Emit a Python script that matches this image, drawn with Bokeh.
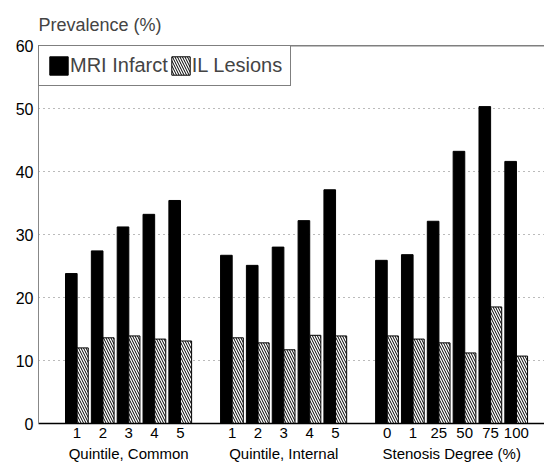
from bokeh.plotting import figure
from bokeh.models import Range1d, FixedTicker, LinearAxis, Span, Legend, LegendItem, ColumnDataSource
from bokeh.embed import file_html
from bokeh.resources import INLINE

# ---- data ----
groups = ["Quintile, Common", "Quintile, Internal", "Stenosis Degree (%)"]
group_cats = [["1", "2", "3", "4", "5"],
              ["1", "2", "3", "4", "5"],
              ["0", "1", "25", "50", "75", "100"]]
mri_infarct = [[23.8, 27.4, 31.2, 33.2, 35.4],
               [26.7, 25.1, 28.0, 32.2, 37.1],
               [25.9, 26.8, 32.1, 43.2, 50.3, 41.6]]
il_lesions = [[12.0, 13.6, 13.9, 13.4, 13.1],
              [13.6, 12.8, 11.7, 14.0, 13.9],
              [13.9, 13.4, 12.8, 11.2, 18.5, 10.7]]
y_ticks = [0, 10, 20, 30, 40, 50, 60]

FONT = "Liberation Sans"

# slot positions: one empty slot between groups
xs, labels, mri, il, group_centers = [], [], [], [], []
pos = 0
for cats, m, l in zip(group_cats, mri_infarct, il_lesions):
    start = pos
    for c, mv, lv in zip(cats, m, l):
        xs.append(pos); labels.append(c); mri.append(mv); il.append(lv)
        pos += 1
    group_centers.append((start + pos - 1) / 2)
    pos += 1

off = 0.22
src = ColumnDataSource(dict(
    xm=[x - off for x in xs], xh=[x + off for x in xs], mri=mri, il=il))

p = figure(width=544, height=468, output_backend="svg", toolbar_location=None,
           x_range=Range1d(-1.49, 18.09), y_range=Range1d(0, 60),
           min_border_left=38, min_border_right=0, min_border_top=45, min_border_bottom=45,
           background_fill_color="white", border_fill_color="white")
p.outline_line_color = None

r1 = p.vbar(x="xm", top="mri", width=0.45, source=src,
            fill_color="black", line_color="black", line_width=1)
r2 = p.vbar(x="xh", top="il", width=0.43, source=src,
            fill_color="white", line_color="black", line_width=1,
            hatch_pattern="left_diagonal_line", hatch_color="black",
            hatch_scale=5, hatch_weight=1)

# title
p.title.text = "Prevalence (%)"
p.title.text_font = FONT
p.title.text_font_size = "18px"
p.title.text_font_style = "normal"
p.title.align = "left"
p.title.standoff = 22

# y axis
ya = p.yaxis[0]
ya.ticker = FixedTicker(ticks=y_ticks)
ya.major_tick_out = 0
ya.major_tick_in = 0
ya.minor_tick_line_color = None
ya.axis_line_color = "#888888"
ya.major_label_text_font = FONT
ya.major_label_text_font_size = "16px"
ya.major_label_text_color = "black"
ya.major_label_standoff = 5

# x axis (category numbers)
xa = p.xaxis[0]
xa.ticker = FixedTicker(ticks=xs)
xa.major_label_overrides = {x: lab for x, lab in zip(xs, labels)}
xa.major_tick_out = 0
xa.major_tick_in = 0
xa.minor_tick_line_color = None
xa.axis_line_color = "black"
xa.axis_line_width = 1.5
xa.major_label_text_font = FONT
xa.major_label_text_font_size = "15px"
xa.major_label_text_color = "black"
xa.major_label_standoff = 4

# group labels axis
ga = LinearAxis(ticker=FixedTicker(ticks=group_centers),
                major_label_overrides={c: g for c, g in zip(group_centers, groups)})
ga.axis_line_color = None
ga.major_tick_line_color = None
ga.minor_tick_line_color = None
ga.major_label_text_font = FONT
ga.major_label_text_font_size = "15px"
ga.major_label_text_color = "black"
ga.major_label_standoff = -2
p.add_layout(ga, "below")

# grid
p.xgrid.visible = False
p.ygrid.ticker = FixedTicker(ticks=[10, 20, 30, 40, 50])
p.ygrid.grid_line_color = "#777777"
p.ygrid.grid_line_dash = "1 4"
p.ygrid.grid_line_width = 1

# top frame line
p.add_layout(Span(location=60, dimension="width", line_color="black", line_width=1.5))

legend = Legend(items=[LegendItem(label="MRI Infarct", renderers=[r1]),
                       LegendItem(label="IL Lesions", renderers=[r2])],
                location="top_left", orientation="horizontal", margin=0,
                padding=8, spacing=1, label_standoff=0,
                glyph_width=23, glyph_height=23,
                label_text_font=FONT, label_text_font_size="20px",
                border_line_color="black", border_line_width=1,
                background_fill_color="white", background_fill_alpha=1)
p.add_layout(legend)

open("out.html", "w").write(file_html(p, INLINE))
